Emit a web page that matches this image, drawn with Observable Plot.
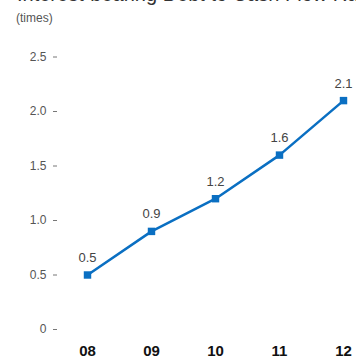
<!DOCTYPE html>
<html>
<head>
<meta charset="utf-8">
<script src="https://cdn.jsdelivr.net/npm/d3@7"></script>
<script src="https://cdn.jsdelivr.net/npm/@observablehq/plot@0.6"></script>
<style>
  html, body { margin: 0; padding: 0; background: #fff; overflow: hidden; }
  #wrap { position: relative; width: 356px; height: 357px; overflow: hidden; font-family: "Liberation Sans", Arial, sans-serif; }
  #title { position: absolute; left: 17px; top: -17px; font-size: 20px; color: #333; white-space: nowrap; }
  #unit { position: absolute; left: 16px; top: 11px; font-size: 12px; color: #555; }
  #chart { position: absolute; left: 0; top: 0; }
</style>
</head>
<body>
<div id="wrap">
  <div id="chart"></div>
  <div id="title">Interest-bearing Debt to Cash Flow Ratio</div>
  <div id="unit">(times)</div>
</div>
<script>
// Fiscal years and the ratio (times) for each
const years = ["08", "09", "10", "11", "12"];
const ratios = [0.5, 0.9, 1.2, 1.6, 2.1];
const yTicks = [0, 0.5, 1.0, 1.5, 2.0, 2.5];

const data = years.map((year, i) => ({year, ratio: ratios[i]}));
const blue = "#0a6fc2";

const chart = Plot.plot({
  width: 356,
  height: 357,
  marginLeft: 57,
  marginRight: 0,
  marginTop: 0,
  marginBottom: 15,
  style: {fontFamily: "'Liberation Sans', Arial, sans-serif", background: "transparent"},
  x: {type: "point", domain: years, range: [86, 343], padding: 0},
  y: {domain: [0, 2.5], range: [329, 56.5]},
  marks: [
    Plot.axisY({
      ticks: yTicks,
      tickFormat: d => d === 0 ? "0" : d.toFixed(1),
      tickSize: 4,
      tickPadding: 7,
      fontSize: 12,
      color: "#555",
      stroke: "#777",
      label: null
    }),
    Plot.axisX({
      tickSize: 0,
      tickPadding: 3,
      fontSize: 15,
      fontWeight: "bold",
      color: "#111",
      label: null
    }),
    Plot.line(data, {x: "year", y: "ratio", stroke: blue, strokeWidth: 2.5}),
    Plot.dot(data, {x: "year", y: "ratio", symbol: "square", r: 4.2, fill: blue}),
    Plot.text(data, {
      x: "year", y: "ratio", text: d => d.ratio.toFixed(1),
      lineAnchor: "bottom", dy: -13, fontSize: 13, fill: "#444"
    })
  ]
});
document.getElementById("chart").appendChild(chart);
</script>
</body>
</html>
